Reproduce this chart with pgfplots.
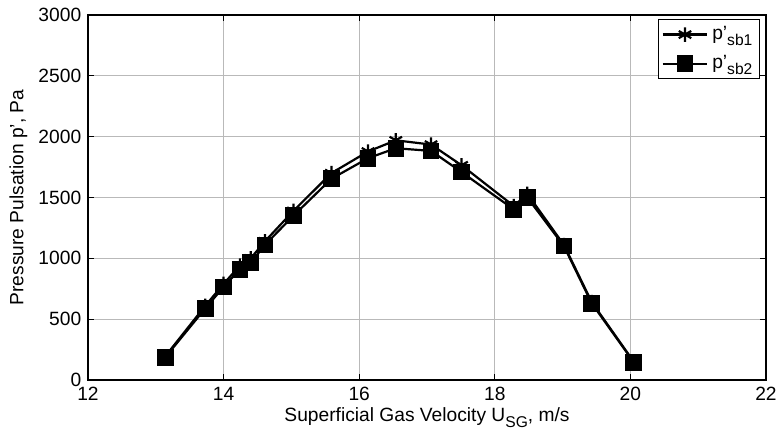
\documentclass[border=0pt]{standalone}
\usepackage{fontspec}
\setmainfont{Liberation Sans}
\usepackage{pgfplots}
\pgfplotsset{compat=1.18}
\newcommand{\sub}[1]{\raisebox{-0.55ex}{\fontsize{7.8}{9}\selectfont #1}}
\begin{document}
\fontsize{9.6}{11}\selectfont
\begin{tikzpicture}
\begin{axis}[
  width=339pt, height=182.5pt, scale only axis,
  xmin=12, xmax=22, ymin=0, ymax=3000,
  xtick={12,14,16,18,20,22},
  ytick={0,500,1000,1500,2000,2500,3000},
  /pgf/number format/assume math mode=true,
  /pgf/number format/set thousands separator={},
  scaled ticks=false,
  tick style={black, thin},
  tick align=inside,
  major tick length=3pt,
  xmajorgrids, ymajorgrids,
  grid style={gray!55, line width=0.4pt},
  axis line style={black, line width=0.6pt},
  xlabel={Superficial Gas Velocity U\sub{SG}, m/s},
  ylabel={Pressure Pulsation p', Pa},
  xlabel style={yshift=3pt},
  ylabel style={yshift=-1pt},
  tick label style={font=\fontsize{9.6}{11}\selectfont},
  label style={font=\fontsize{9.6}{11}\selectfont},
  legend style={at={(0.991,0.989)}, anchor=north east, draw=black, line width=0.5pt,
    font=\fontsize{9.6}{11}\selectfont, inner sep=1.5pt, row sep=2.5pt,
    legend cell align=left},
  legend image code/.code={\draw[#1] (0cm,0cm) -- (0.78cm,0cm); \draw[#1, mark repeat=2, mark phase=2] plot coordinates {(0cm,0cm) (0.39cm,0cm) (0.78cm,0cm)};},
]
\addplot[black, line width=1.1pt, mark=asterisk, mark size=3.6pt, mark options={line width=1.1pt}] coordinates {
(13.14,195) (13.73,610) (14.00,790) (14.24,940) (14.40,1000) (14.61,1140) (15.03,1390) (15.59,1700)
(16.13,1878) (16.54,1970) (17.06,1935) (17.51,1765) (18.28,1430) (18.48,1530) (19.02,1110) (19.43,640) (20.05,150)
};
\addlegendentry{p'\sub{sb1}}
\addplot[black, line width=1.1pt, mark=square*, mark size=3.6pt] coordinates {
(13.14,187) (13.73,589) (14.00,765) (14.24,910) (14.40,964) (14.61,1111) (15.03,1350) (15.59,1654)
(16.13,1823) (16.54,1905) (17.06,1883) (17.51,1709) (18.28,1402) (18.48,1500) (19.02,1100) (19.43,630) (20.05,146)
};
\addlegendentry{p'\sub{sb2}}
\end{axis}
\pgfresetboundingbox
\path (current axis.south west) ++(-44pt,-29.5pt) coordinate (bl);
\path (current axis.north east) ++(6pt,7.5pt) coordinate (tr);
\path (bl) rectangle (tr);
\end{tikzpicture}
\end{document}
